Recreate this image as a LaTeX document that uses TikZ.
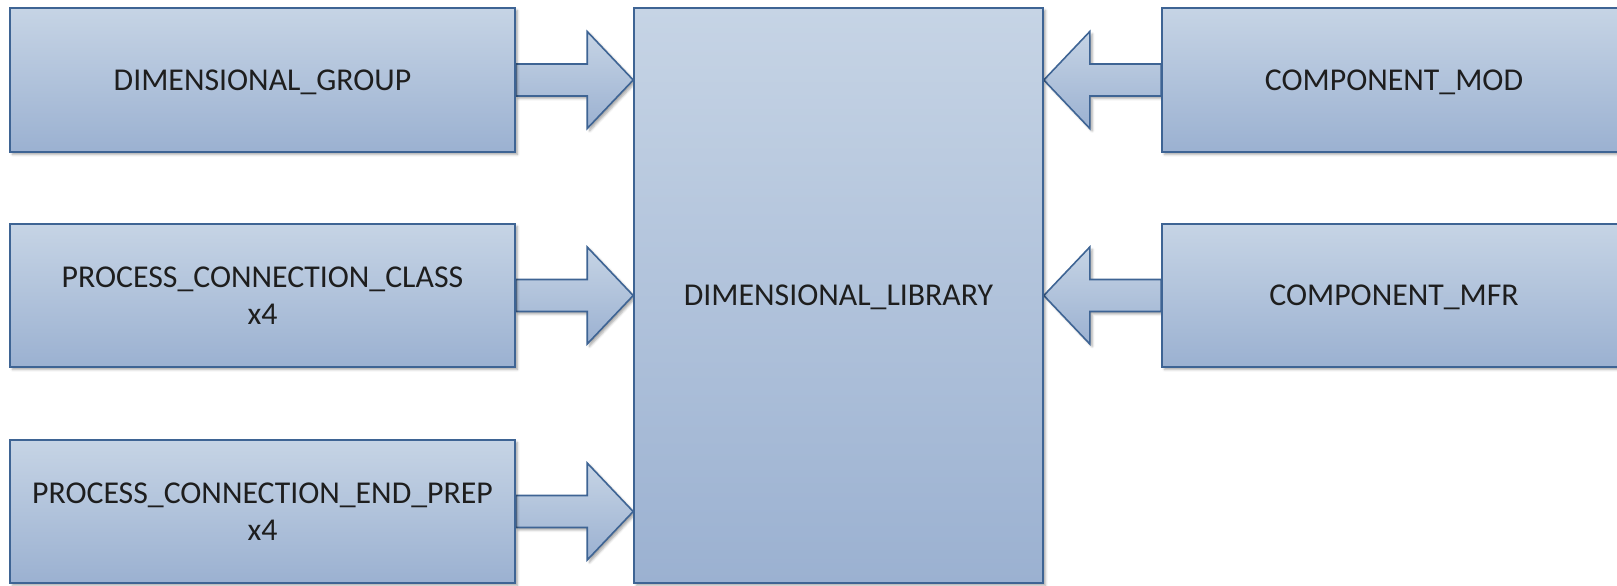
\documentclass[tikz,border=0pt]{standalone}
\usepackage{fontspec}
\setmainfont{Carlito}
\usetikzlibrary{calc,shadows.blur}

\definecolor{boxtop}{HTML}{C6D4E5}
\definecolor{boxbottom}{HTML}{9BB1D1}
\definecolor{boxline}{HTML}{3E6494}
\definecolor{labeltext}{HTML}{1E1E1E}

\pgfdeclarelayer{back}
\pgfsetlayers{back,main}

\tikzset{
  x=0.5pt, y=-0.5pt,
  softshadow/.style={blur shadow={shadow xshift=1.2pt, shadow yshift=-1.2pt,
      shadow blur steps=4, shadow blur radius=1.2pt, shadow opacity=35}},
  panel/.style={rectangle, draw=boxline, line width=0.8pt,
      top color=boxtop, bottom color=boxbottom, softshadow,
      text=labeltext, font=\fontsize{15.9}{18.5}\selectfont,
      align=center, inner sep=0pt},
  oneline/.style={text depth=0pt},
  sidebox/.style={panel, minimum width=252.5pt, minimum height=72pt},
  flow/.style={draw=boxline, line width=0.8pt, line join=miter,
      top color=boxtop, bottom color=boxbottom, softshadow},
}

% block arrow from the anchor #1 to the edge #2, head length #3 (signed)
\newcommand\feedarrow[3]{%
  \path[flow] ($(#1)+(0,16)$) -- ($(#2|-#1)+(#3,16)$) -- ($(#2|-#1)+(#3,48.5)$)
    -- (#2|-#1) -- ($(#2|-#1)+(#3,-48.5)$) -- ($(#2|-#1)+(#3,-16)$)
    -- ($(#1)+(0,-16)$) -- cycle;}

\begin{document}
\begin{tikzpicture}
  \useasboundingbox (0,0) rectangle (1617,585);
  \clip (0,0) rectangle (1617,585);

  % central library block
  \node[panel, oneline, minimum width=204.5pt, minimum height=287.5pt] (lib) at (838.5,295.5)
    {DIMENSIONAL\_LIBRARY};

  % inputs on the left
  \node[sidebox, oneline] (grp) at (262.5,80) {DIMENSIONAL\_GROUP};
  \node[sidebox, minimum height=71.5pt] (pcc) at (262.5,295.5)
    {PROCESS\_CONNECTION\_CLASS\\x4};
  \node[sidebox, minimum height=71.5pt] (pce) at (262.5,511.5)
    {PROCESS\_CONNECTION\_END\_PREP\\x4};

  % inputs on the right (running off the right edge)
  \node[sidebox, oneline, minimum width=232pt] (mod) at (1394,80) {COMPONENT\_MOD};
  \node[sidebox, oneline, minimum width=232pt, minimum height=71.5pt] (mfr) at (1394,295.5)
    {COMPONENT\_MFR};

  \begin{pgfonlayer}{back}
    \feedarrow{grp.east}{lib.west}{-46}
    \feedarrow{pcc.east}{lib.west}{-46}
    \feedarrow{pce.east}{lib.west}{-46}
    \feedarrow{mod.west}{lib.east}{46}
    \feedarrow{mfr.west}{lib.east}{46}
  \end{pgfonlayer}
\end{tikzpicture}
\end{document}
